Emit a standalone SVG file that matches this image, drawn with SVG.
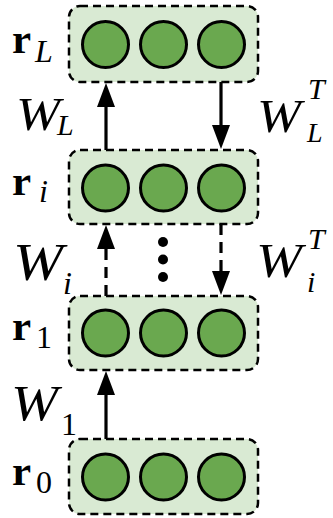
<svg xmlns="http://www.w3.org/2000/svg" width="333" height="518" viewBox="0 0 333 518">
  <style>
    .layer rect { fill: #d9ead3; stroke: #000; stroke-width: 2.5; stroke-dasharray: 8 5; }
    .unit { fill: #6aa84f; stroke: #000; stroke-width: 3; }
    .edge { stroke: #000; stroke-width: 3.2; fill: none; }
    .edge.dashed { stroke-dasharray: 11 7; }
    .m { font-family: "Liberation Serif", "DejaVu Serif", serif; fill: #000; }
    .bold { font-weight: bold; font-size: 43px; }
    .it { font-style: italic; }
    .big { font-size: 46px; }
    .sub { font-size: 32px; }
    .sup { font-size: 30px; }
  </style>
  <defs>
    <marker id="head" markerUnits="userSpaceOnUse" viewBox="0 0 24 18" markerWidth="24" markerHeight="18" refX="1" refY="9" orient="auto">
      <path d="M0,0 L24,9 L0,18 Z" fill="#000"/>
    </marker>
    <g id="units">
      <circle class="unit" cx="105.5" cy="0" r="23"/>
      <circle class="unit" cx="163.5" cy="0" r="23"/>
      <circle class="unit" cx="221.5" cy="0" r="23"/>
    </g>
  </defs>

  <!-- layers -->
  <g id="layer-L" class="layer">
    <rect x="69" y="6" width="189" height="76" rx="11"/>
    <use href="#units" y="44.5"/>
  </g>
  <g id="layer-i" class="layer">
    <rect x="69" y="150" width="189" height="74" rx="11"/>
    <use href="#units" y="188"/>
  </g>
  <g id="layer-1" class="layer">
    <rect x="69" y="296" width="189" height="74" rx="11"/>
    <use href="#units" y="333"/>
  </g>
  <g id="layer-0" class="layer">
    <rect x="69" y="439" width="189" height="75" rx="11"/>
    <use href="#units" y="477"/>
  </g>

  <!-- connectors -->
  <g id="connectors">
    <line class="edge" x1="106" y1="150" x2="106" y2="106" marker-end="url(#head)"/>
    <line class="edge" x1="221" y1="82" x2="221" y2="126" marker-end="url(#head)"/>
    <line class="edge dashed" x1="106" y1="296" x2="106" y2="248" marker-end="url(#head)"/>
    <line class="edge dashed" x1="221" y1="224" x2="221" y2="272" marker-end="url(#head)"/>
    <line class="edge" x1="106" y1="439" x2="106" y2="394" marker-end="url(#head)"/>
  </g>

  <!-- vertical ellipsis between the hidden layers -->
  <g id="ellipsis" fill="#000">
    <circle cx="163" cy="242" r="5"/>
    <circle cx="163" cy="259.5" r="5"/>
    <circle cx="163" cy="277" r="5"/>
  </g>

  <!-- labels -->
  <g id="label-rL" class="m">
    <text x="12" y="53" class="bold">r</text>
    <text x="35" y="62" class="it sub">L</text>
  </g>
  <g id="label-WL" class="m">
    <text x="16" y="130" class="it big" textLength="44" lengthAdjust="spacingAndGlyphs">W</text>
    <text x="57" y="135" class="it" style="font-size:30px">L</text>
  </g>
  <g id="label-WLT" class="m">
    <text x="257" y="132" class="it big" textLength="44" lengthAdjust="spacingAndGlyphs">W</text>
    <text x="308" y="99" class="it sup">T</text>
    <text x="307" y="142" class="it" style="font-size:28px">L</text>
  </g>
  <g id="label-ri" class="m">
    <text x="12" y="195" class="bold">r</text>
    <text x="39" y="202" class="it sub">i</text>
  </g>
  <g id="label-Wi" class="m">
    <text x="13" y="280" class="it" style="font-size:53px" textLength="50" lengthAdjust="spacingAndGlyphs">W</text>
    <text x="63" y="294" class="it sub">i</text>
  </g>
  <g id="label-WiT" class="m">
    <text x="256" y="277" class="it" style="font-size:49px" textLength="46" lengthAdjust="spacingAndGlyphs">W</text>
    <text x="308" y="249" class="it sup">T</text>
    <text x="307" y="292" class="it" style="font-size:30px">i</text>
  </g>
  <g id="label-r1" class="m">
    <text x="12" y="340" class="bold">r</text>
    <text x="36" y="348" class="sub">1</text>
  </g>
  <g id="label-W1" class="m">
    <text x="11" y="420" class="it" style="font-size:50px" textLength="47" lengthAdjust="spacingAndGlyphs">W</text>
    <text x="61" y="435" class="sub">1</text>
  </g>
  <g id="label-r0" class="m">
    <text x="12" y="485" class="bold">r</text>
    <text x="36" y="493" class="sub">0</text>
  </g>
</svg>
